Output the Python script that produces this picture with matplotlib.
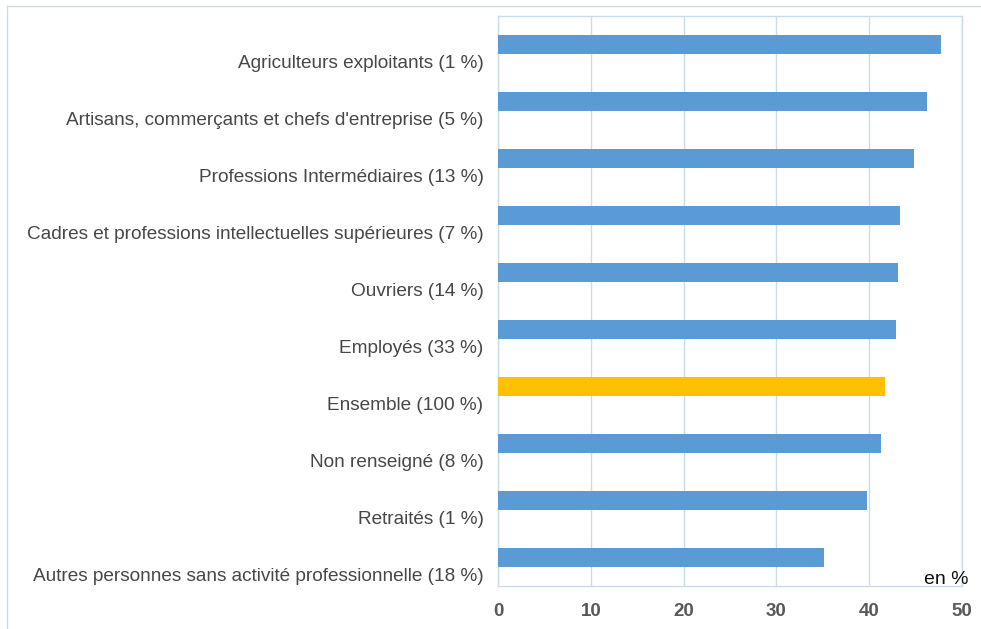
import matplotlib
matplotlib.use("Agg")
import matplotlib.pyplot as plt
from matplotlib.lines import Line2D
from matplotlib.transforms import ScaledTranslation

plt.rcParams['font.family'] = ['Liberation Sans', 'DejaVu Sans']

categories = [
    "Agriculteurs exploitants (1 %)",
    "Artisans, commerçants et chefs d'entreprise (5 %)",
    "Professions Intermédiaires (13 %)",
    "Cadres et professions intellectuelles supérieures (7 %)",
    "Ouvriers (14 %)",
    "Employés (33 %)",
    "Ensemble (100 %)",
    "Non renseigné (8 %)",
    "Retraités (1 %)",
    "Autres personnes sans activité professionnelle (18 %)",
]
values = [47.7, 46.2, 44.8, 43.3, 43.1, 42.9, 41.7, 41.3, 39.8, 35.1]
highlight = "Ensemble (100 %)"
xticks = [0, 10, 20, 30, 40, 50]

W, H = 981, 629
fig = plt.figure(figsize=(W / 100, H / 100), dpi=100)
ax = fig.add_axes([498 / W, 1 - 586 / H, (962 - 498) / W, (586 - 16) / H])

colors = ["#FFC000" if c == highlight else "#5B9BD5" for c in categories]
ypos = list(range(len(categories)))
ax.barh(ypos, values, height=0.35, color=colors, zorder=3)
ax.set_ylim(len(categories) - 0.5, -0.5)
ax.set_xlim(0, 50)
ax.set_yticks(ypos)
ax.set_yticklabels(categories, fontsize=13.7, color="#474747")
ax.set_xticks(xticks)
ax.set_xticklabels([str(t) for t in xticks], fontsize=13.5, fontweight="bold", color="#595959")
ax.tick_params(axis="both", length=0)
ax.tick_params(axis="y", pad=10.5)
ax.tick_params(axis="x", pad=12)
ax.grid(axis="x", color="#C8DCEC", linewidth=1, zorder=0)
for s in ax.spines.values():
    s.set_color("#C8DCEC")
    s.set_linewidth(1)

# category labels sit slightly below their bars in the reference
offset = ScaledTranslation(0, -17 / 100, fig.dpi_scale_trans)
for lab in ax.get_yticklabels():
    lab.set_transform(lab.get_transform() + offset)

fig.text(968 / W, 1 - 580 / H, "en %", fontsize=14, color="#111111", ha="right", va="center")

# outer frame (top and left edges)
fig.add_artist(Line2D([7 / W, 1], [1 - 6 / H, 1 - 6 / H], transform=fig.transFigure, color="#C8DCEC", lw=1))
fig.add_artist(Line2D([7 / W, 7 / W], [0, 1 - 6 / H], transform=fig.transFigure, color="#C8DCEC", lw=1))

fig.savefig("out.png", dpi=100, facecolor="white")
